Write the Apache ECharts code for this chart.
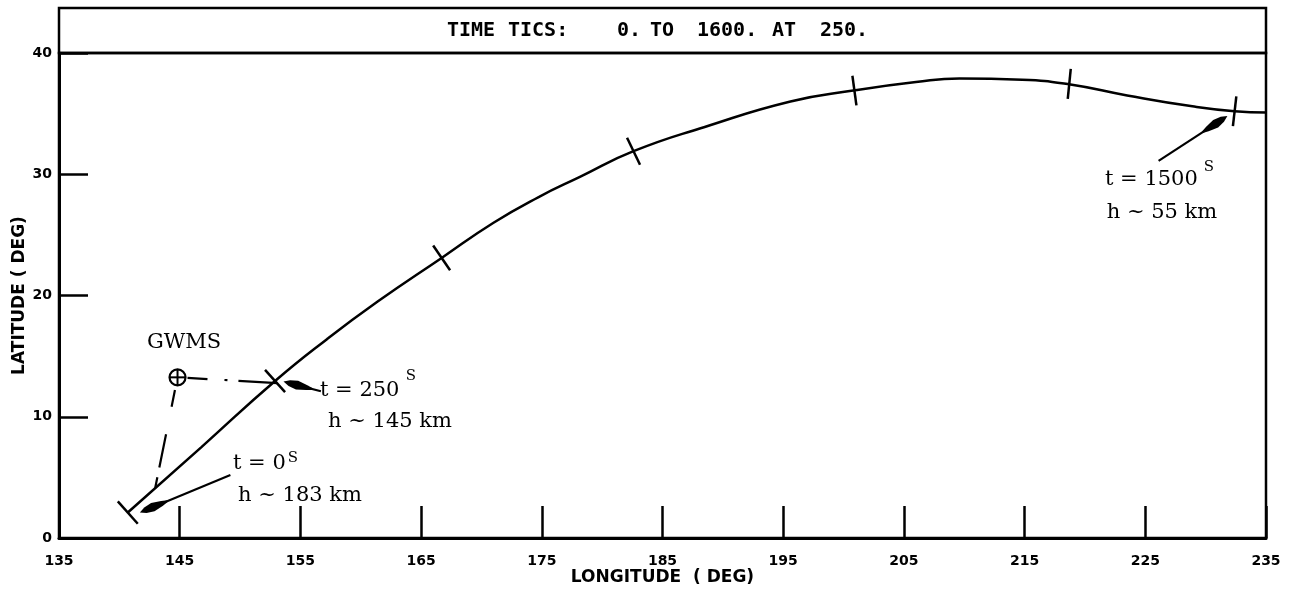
<!DOCTYPE html>
<html><head><meta charset="utf-8">
<script src="https://cdn.jsdelivr.net/npm/echarts@6/dist/echarts.min.js"></script>
<style>html,body{margin:0;padding:0;background:#fff}#c{width:1289px;height:593px}</style>
</head><body><div id="c"></div>
<script>
// ---- data ----
const xTickValues = [135,145,155,165,175,185,195,205,215,225,235];
const yTickValues = [0,10,20,30,40];
const trackLon = [140.7,146.8,152.9,157.2,161.4,166.7,171.0,174.7,178.2,182.6,188.5,195.6,200.8,206.0,209.6,214.8,218.8,223.5,228.9,232.4,235.0];
const trackLat = [2.1,7.5,12.95,16.4,19.5,23.1,26.0,28.1,29.8,31.9,33.9,36.0,36.9,37.6,37.9,37.8,37.4,36.5,35.6,35.2,35.1];
const tickTimes = [0,250,500,750,1000,1250,1500];
const tickLon = [140.7,152.9,166.7,182.6,200.9,218.7,232.4];
const tickLat = [2.1,12.95,23.1,31.9,36.9,37.45,35.2];
const gwmsPos = [144.82,13.25];
const gwmsLineEndLon = [153.09,142.97];
const gwmsLineEndLat = [12.78,4.12];
const arrowTailLon = [149.2,156.7,226.1];
const arrowTailLat = [5.2,12.1,31.1];
const arrowTipLon = [141.7,153.6,231.8];
const arrowTipLat = [2.1,12.9,34.8];
const headerParts = ['TIME','TICS:','0.','TO','1600.','AT','250.'];

const PLOT = "'DejaVu Sans','Liberation Sans',sans-serif";
const MONO = "'DejaVu Sans Mono','Liberation Mono',monospace";
const SERIF = "'DejaVu Serif','Liberation Serif',serif";

const chart = echarts.init(document.getElementById('c'), null, {renderer:'canvas'});

function tickRender(params, api){
  const p = api.coord([api.value(0), api.value(1)]);
  const pts = trackLon.map((v,k)=>api.coord([v, trackLat[k]]));
  let best = 0, bd = Infinity;
  for (let k=0;k<pts.length-1;k++){
    const a=pts[k], b=pts[k+1];
    const dx=b[0]-a[0], dy=b[1]-a[1];
    let t=((p[0]-a[0])*dx+(p[1]-a[1])*dy)/(dx*dx+dy*dy);
    t=Math.max(0,Math.min(1,t));
    const qx=a[0]+t*dx-p[0], qy=a[1]+t*dy-p[1];
    const d=qx*qx+qy*qy;
    if(d<bd){bd=d;best=k;}
  }
  const a=pts[best], b=pts[best+1];
  let tx=b[0]-a[0], ty=b[1]-a[1];
  const L=Math.hypot(tx,ty); tx/=L; ty/=L;
  const nx=-ty, ny=tx, h=15;
  return {type:'line', shape:{x1:p[0]-nx*h,y1:p[1]-ny*h,x2:p[0]+nx*h,y2:p[1]+ny*h},
    style:{stroke:'#000', lineWidth:2.5}};
}

function arrowRender(params, api){
  const a = api.coord([api.value(0), api.value(1)]);
  const b = api.coord([api.value(2), api.value(3)]);
  let dx=b[0]-a[0], dy=b[1]-a[1];
  const L=Math.hypot(dx,dy); dx/=L; dy/=L;
  const nx=-dy, ny=dx;
  const P=(s,w)=>[b[0]-dx*s+nx*w, b[1]-dy*s+ny*w];
  return {type:'group', children:[
    {type:'line', shape:{x1:a[0],y1:a[1],x2:b[0]-dx*6,y2:b[1]-dy*6}, style:{stroke:'#000',lineWidth:2.2}},
    {type:'polygon', shape:{points:[P(0,0),P(6,3),P(14,4.5),P(24,2.5),P(30,0.8),P(30,-0.8),P(24,-2.5),P(14,-4.5),P(6,-3)]},
      style:{fill:'#000'}}
  ]};
}

const dashPatterns = [[0,10,20,17,3,11,60],[0,13,17,28,34,10,30]];
function gwmsLineRender(params, api){
  const i = params.dataIndex;
  const a = api.coord(gwmsPos);
  const b = api.coord([api.value(0), api.value(1)]);
  return {type:'line', shape:{x1:a[0],y1:a[1],x2:b[0],y2:b[1]},
    style:{stroke:'#000', lineWidth:2.2, lineDash:dashPatterns[i]}};
}
function gwmsRender(params, api){
  const c = api.coord([api.value(0), api.value(1)]);
  const r = 8;
  return {type:'group', children:[
    {type:'circle', shape:{cx:c[0],cy:c[1],r:r}, style:{stroke:'#000',fill:'none',lineWidth:2.2}},
    {type:'line', shape:{x1:c[0]-r,y1:c[1],x2:c[0]+r,y2:c[1]}, style:{stroke:'#000',lineWidth:2}},
    {type:'line', shape:{x1:c[0],y1:c[1]-r,x2:c[0],y2:c[1]+r}, style:{stroke:'#000',lineWidth:2}}
  ]};
}

const txt = (x,y,s,opt)=>Object.assign({type:'text', x:x, y:y, silent:true,
  style:Object.assign({text:s, fill:'#000', font:'21px '+SERIF, textAlign:'left', textVerticalAlign:'middle'}, opt||{})});

const headerX = [447,508,617,650,697,772,820];
const option = {
  animation:false,
  backgroundColor:'#fff',
  grid:{left:59, right:23, top:53, bottom:55, show:true, borderColor:'#000', borderWidth:2.5,
    containLabel:false, outerBoundsMode:'none'},
  xAxis:{type:'value', min:135, max:235,
    axisLine:{show:true, onZero:false, lineStyle:{color:'#000', width:3}},
    axisTick:{show:true, inside:true, length:32, customValues:xTickValues, lineStyle:{color:'#000', width:2.5}},
    axisLabel:{customValues:xTickValues, color:'#000', fontFamily:PLOT, fontWeight:'bold', fontSize:14, margin:16},
    splitLine:{show:false},
    name:'LONGITUDE  ( DEG)', nameLocation:'middle', nameGap:31, nameMoveOverlap:false,
    nameTextStyle:{color:'#000', fontFamily:PLOT, fontWeight:'bold', fontSize:17}
  },
  yAxis:{type:'value', min:0, max:40, interval:10,
    axisLine:{show:true, onZero:false, lineStyle:{color:'#000', width:3}},
    axisTick:{show:true, inside:true, length:29, lineStyle:{color:'#000', width:2.5}},
    axisLabel:{color:'#000', fontFamily:PLOT, fontWeight:'bold', fontSize:14, margin:7, showMinLabel:true, showMaxLabel:true},
    splitLine:{show:false},
    name:'LATITUDE ( DEG)', nameLocation:'middle', nameGap:31, nameRotate:90, nameMoveOverlap:false,
    nameTextStyle:{color:'#000', fontFamily:PLOT, fontWeight:'bold', fontSize:17}
  },
  series:[
    {type:'line', data:trackLon.map((v,i)=>[v,trackLat[i]]), symbol:'none', smooth:0.5,
      lineStyle:{color:'#000', width:2.5}, clip:false, z:3},
    {type:'custom', data:tickLon.map((v,i)=>[v,tickLat[i],tickTimes[i]]), renderItem:tickRender, encode:{x:0,y:1}, clip:false, z:4},
    {type:'custom', data:gwmsLineEndLon.map((v,i)=>[v,gwmsLineEndLat[i]]), renderItem:gwmsLineRender, encode:{x:0,y:1}, z:4},
    {type:'custom', data:[gwmsPos], renderItem:gwmsRender, encode:{x:0,y:1}, z:5},
    {type:'custom', data:arrowTailLon.map((v,i)=>[v,arrowTailLat[i],arrowTipLon[i],arrowTipLat[i]]), renderItem:arrowRender, encode:{x:[0,2],y:[1,3]}, z:5}
  ],
  graphic:[
    {type:'rect', shape:{x:59,y:8,width:1207,height:45}, style:{stroke:'#000', fill:'none', lineWidth:2.5}, silent:true}
  ].concat(headerParts.map((s,i)=>({type:'text', x:headerX[i], y:31, silent:true,
      style:{text:s, fill:'#000', font:'bold 20px '+MONO, textAlign:'left', textVerticalAlign:'middle'}})))
   .concat([
    txt(184,343,'GWMS',{textAlign:'center'}),
    txt(320,391,'t = 250'),
    txt(411,376,'S',{textAlign:'center', font:'15px '+SERIF}),
    txt(390,422,'h ~ 145 km',{textAlign:'center'}),
    txt(233,464,'t = 0'),
    txt(293,458,'S',{textAlign:'center', font:'15px '+SERIF}),
    txt(300,496,'h ~ 183 km',{textAlign:'center'}),
    txt(1105,180,'t = 1500'),
    txt(1209,167,'S',{textAlign:'center', font:'15px '+SERIF}),
    txt(1162,213,'h ~ 55 km',{textAlign:'center'})
  ])
};
chart.setOption(option);
</script>
</body></html>
